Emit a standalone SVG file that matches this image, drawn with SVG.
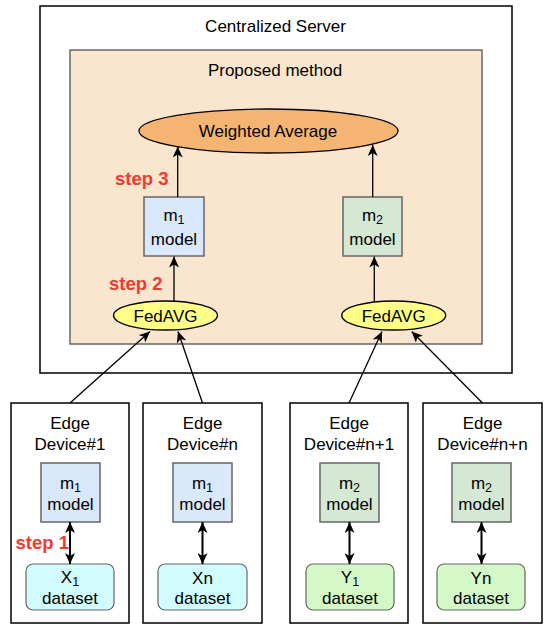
<svg xmlns="http://www.w3.org/2000/svg" width="550" height="629" viewBox="0 0 550 629">
  <style>
    text { font-family: "Liberation Sans", Arial, Helvetica, sans-serif; font-size: 17px; fill: #000; text-anchor: middle; }
    .sub { font-size: 12.5px; }
    .step { font-weight: bold; font-size: 18.5px; fill: #f03a30; text-anchor: start; }
    .box { fill: #fff; stroke: #000; stroke-width: 1.5; }
    .m1 { fill: #dae8fc; stroke: #666; stroke-width: 1.5; }
    .m2 { fill: #d5e8d4; stroke: #666; stroke-width: 1.5; }
    .dx { fill: #d2fbfd; stroke: #666; stroke-width: 1.2; }
    .dy { fill: #d5f8c8; stroke: #666; stroke-width: 1.2; }
    .conn { fill: none; stroke: #000; stroke-width: 1.3; marker-end: url(#arr); }
    .dbl { fill: none; stroke: #000; stroke-width: 2; marker-start: url(#arr); marker-end: url(#arr); }
  </style>
  <defs>
    <marker id="arr" viewBox="0 0 11 10" refX="11" refY="5" markerWidth="11" markerHeight="10" markerUnits="userSpaceOnUse" orient="auto-start-reverse">
      <path d="M0,0 L11,5 L0,10 L3,5 Z" fill="#000"/>
    </marker>
  </defs>

  <g id="server">
    <rect class="box" x="40" y="6" width="472" height="367"/>
    <text x="275.5" y="32">Centralized Server</text>
  </g>
  <g id="proposed">
    <rect x="70" y="50" width="412" height="294" fill="#fae5cf" stroke="#666" stroke-width="1.5"/>
    <text x="275" y="76">Proposed method</text>
  </g>
  <g id="weighted-average">
    <ellipse cx="268.5" cy="131" rx="129.5" ry="22" fill="#f4b572" stroke="#000" stroke-width="1.3"/>
    <text x="268" y="137">Weighted Average</text>
  </g>
  <g id="server-m1">
    <rect class="m1" x="144" y="197" width="60" height="59"/>
    <text x="174" y="221">m<tspan class="sub" dy="3">1</tspan></text>
    <text x="174" y="245">model</text>
  </g>
  <g id="server-m2">
    <rect class="m2" x="343" y="197" width="59" height="59"/>
    <text x="372.5" y="221">m<tspan class="sub" dy="3">2</tspan></text>
    <text x="372.5" y="245">model</text>
  </g>
  <g id="fedavg-1">
    <ellipse cx="165.5" cy="315.5" rx="52" ry="14.5" fill="#ffff88" stroke="#000" stroke-width="1.3"/>
    <text x="165.5" y="321.5">FedAVG</text>
  </g>
  <g id="fedavg-2">
    <ellipse cx="393.7" cy="315.5" rx="52" ry="14.5" fill="#ffff88" stroke="#000" stroke-width="1.3"/>
    <text x="393.7" y="321.5">FedAVG</text>
  </g>

  <g id="device-1">
    <rect class="box" x="11" y="403" width="118" height="220"/>
    <text x="70" y="429">Edge</text>
    <text x="70" y="450">Device#1</text>
    <rect class="m1" x="41" y="463" width="59" height="59"/>
    <text x="70.5" y="489">m<tspan class="sub" dy="3">1</tspan></text>
    <text x="70.5" y="510">model</text>
    <rect class="dx" x="26" y="564" width="88" height="46" rx="7"/>
    <text x="70" y="583">X<tspan class="sub" dy="3">1</tspan></text>
    <text x="70" y="604">dataset</text>
  </g>
  <g id="device-n">
    <rect class="box" x="143" y="403" width="119" height="220"/>
    <text x="202.5" y="429">Edge</text>
    <text x="202.5" y="450">Device#n</text>
    <rect class="m1" x="173" y="463" width="59" height="59"/>
    <text x="202.5" y="489">m<tspan class="sub" dy="3">1</tspan></text>
    <text x="202.5" y="510">model</text>
    <rect class="dx" x="158" y="564" width="89" height="46" rx="7"/>
    <text x="202.5" y="584">Xn</text>
    <text x="202.5" y="604">dataset</text>
  </g>
  <g id="device-n1">
    <rect class="box" x="290" y="403" width="118" height="220"/>
    <text x="349" y="429">Edge</text>
    <text x="349" y="450">Device#n+1</text>
    <rect class="m2" x="320" y="463" width="59" height="59"/>
    <text x="349.5" y="489">m<tspan class="sub" dy="3">2</tspan></text>
    <text x="349.5" y="510">model</text>
    <rect class="dy" x="306" y="564" width="88" height="46" rx="7"/>
    <text x="350" y="583">Y<tspan class="sub" dy="3">1</tspan></text>
    <text x="350" y="604">dataset</text>
  </g>
  <g id="device-nn">
    <rect class="box" x="423" y="403" width="119" height="220"/>
    <text x="482.5" y="429">Edge</text>
    <text x="482.5" y="450">Device#n+n</text>
    <rect class="m2" x="452" y="463" width="59" height="59"/>
    <text x="481.5" y="489">m<tspan class="sub" dy="3">2</tspan></text>
    <text x="481.5" y="510">model</text>
    <rect class="dy" x="437" y="564" width="88" height="46" rx="7"/>
    <text x="481" y="584">Yn</text>
    <text x="481" y="604">dataset</text>
  </g>

  <g id="labels">
    <text class="step" x="115" y="185">step 3</text>
    <text class="step" x="109" y="290">step 2</text>
    <text class="step" x="15.5" y="549">step 1</text>
  </g>

  <g id="connectors">
    <path class="conn" d="M177.7,197 L177.7,146.5"/>
    <path class="conn" d="M372.7,197 L372.7,145"/>
    <path class="conn" d="M174,301.2 L174,256.5"/>
    <path class="conn" d="M374.3,302 L374.3,256.5"/>
    <path class="conn" d="M70,403 L150,331.5"/>
    <path class="conn" d="M202.5,403 L178,331.5"/>
    <path class="conn" d="M349,403 L382,331.5"/>
    <path class="conn" d="M482.5,403 L411.7,331.5"/>
    <path class="dbl" d="M70,522 L70,564"/>
    <path class="dbl" d="M202.5,522 L202.5,564"/>
    <path class="dbl" d="M349.5,522 L349.5,564"/>
    <path class="dbl" d="M481.5,522 L481.5,564"/>
  </g>
</svg>
